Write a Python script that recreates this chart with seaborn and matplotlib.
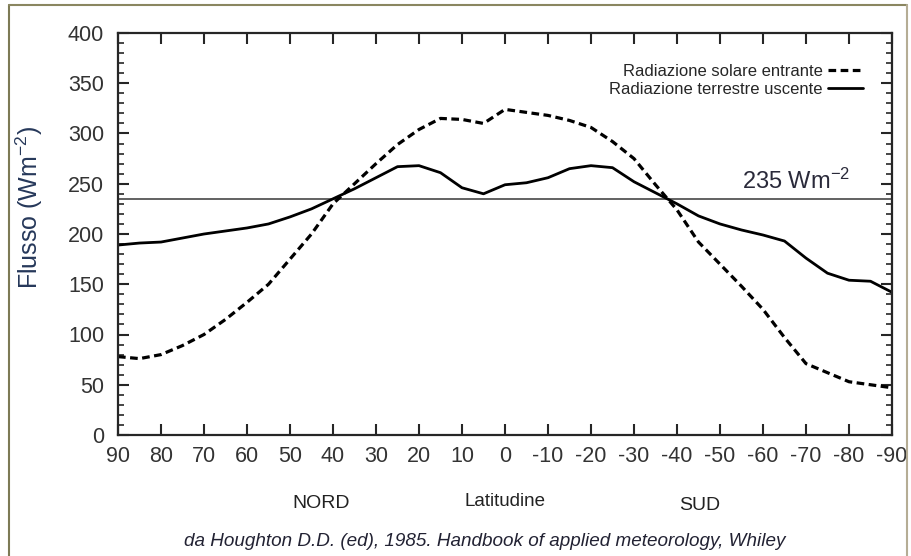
import numpy as np
import pandas as pd
import matplotlib
matplotlib.use("Agg")
import matplotlib.pyplot as plt
import seaborn as sns
from matplotlib.lines import Line2D
from matplotlib.ticker import MultipleLocator

# dati (Houghton 1985)
latitudine = [90, 85, 80, 75, 70, 65, 60, 55, 50, 45, 40, 35, 30, 25, 20, 15, 10, 5, 0,
              -5, -10, -15, -20, -25, -30, -35, -40, -45, -50, -55, -60, -65, -70, -75,
              -80, -85, -90]
solare_entrante = [78, 76, 80, 89, 100, 115, 132, 150, 175, 200, 230, 250, 270, 289, 304,
                   315, 314, 310, 324, 321, 318, 313, 306, 292, 275, 249, 224, 192, 170,
                   148, 125, 97, 71, 62, 53, 50, 47]
terrestre_uscente = [189, 191, 192, 196, 200, 203, 206, 210, 217, 225, 235, 245, 256, 267,
                     268, 261, 246, 240, 249, 251, 256, 265, 268, 266, 252, 241, 230, 218,
                     210, 204, 199, 193, 176, 161, 154, 153, 142]
media = 235
xtick_vals = list(range(90, -91, -10))
xtick_lab = [str(v) for v in xtick_vals]

df = pd.DataFrame({"lat": latitudine, "solare": solare_entrante, "terrestre": terrestre_uscente})

sns.set_style("ticks")
plt.rcParams["font.family"] = ["Liberation Sans", "DejaVu Sans"]
plt.rcParams["mathtext.fontset"] = "custom"
plt.rcParams["mathtext.rm"] = "Liberation Sans"
plt.rcParams["mathtext.it"] = "Liberation Sans:italic"

fig = plt.figure(figsize=(9.12, 5.56), dpi=100)
ax = fig.add_axes([118 / 912, 1 - 435 / 556, (892 - 118) / 912, (435 - 33) / 556])

sns.lineplot(data=df, x="lat", y="solare", ax=ax, color="black", lw=2.3, sort=False)
ax.lines[-1].set_dashes((2.4, 1.4))
sns.lineplot(data=df, x="lat", y="terrestre", ax=ax, color="black", lw=2.0, sort=False)
ax.axhline(media, color="#555555", lw=1.3, zorder=1)

ax.set_xlim(90, -90)
ax.set_ylim(0, 400)
ax.set_xticks(xtick_vals)
ax.set_xticklabels(xtick_lab)
ax.yaxis.set_major_locator(MultipleLocator(50))
ax.yaxis.set_minor_locator(MultipleLocator(10))
ax.tick_params(axis="both", which="major", direction="in", length=8, width=1.5,
               top=True, right=True, labelsize=15.5, labelcolor="#333333")
ax.tick_params(axis="x", which="major", pad=8)
ax.tick_params(axis="y", which="major", pad=10)
ax.tick_params(axis="y", which="minor", direction="in", length=4, width=1.2, right=True)
for s in ax.spines.values():
    s.set_linewidth(1.6)
ax.set_xlabel("")
ax.set_ylabel("Flusso (Wm$^{-2}$)", fontsize=18, color="#26385a")
ax.yaxis.set_label_coords(-0.094, 0.567)

ax.text(-55, 245, "235 Wm$^{-2}$", fontsize=17, color="#2a2a3a", ha="left", va="baseline")

handles = [Line2D([], [], color="black", lw=2.3, dashes=(2.4, 1.4)),
           Line2D([], [], color="black", lw=2.0)]
ax.legend(handles, ["Radiazione solare entrante", "Radiazione terrestre uscente"],
          loc="upper right", bbox_to_anchor=(863 / 912, 1 - 64 / 556),
          bbox_transform=fig.transFigure, frameon=False, markerfirst=False,
          fontsize=12, handlelength=2.1, handletextpad=0.3, labelspacing=0.2,
          borderpad=0, borderaxespad=0)

fig.text(321 / 912, 1 - 503 / 556, "NORD", ha="center", va="center", fontsize=14, color="#222222")
fig.text(505 / 912, 1 - 502 / 556, "Latitudine", ha="center", va="center", fontsize=13.5, color="#222222")
fig.text(700 / 912, 1 - 505 / 556, "SUD", ha="center", va="center", fontsize=14, color="#222222")
fig.text(485 / 912, 1 - 542 / 556,
         "da Houghton D.D. (ed), 1985. Handbook of applied meteorology, Whiley",
         ha="center", va="center", fontsize=13.6, style="italic", color="#222233")

# cornice esterna
fig.add_artist(Line2D([9 / 912, 9 / 912], [0, 1 - 5 / 556], color="#7d7a55", lw=1.5,
                      transform=fig.transFigure))
fig.add_artist(Line2D([9 / 912, 907 / 912], [1 - 5 / 556, 1 - 5 / 556], color="#8a8660",
                      lw=1.5, transform=fig.transFigure))
fig.add_artist(Line2D([907 / 912, 907 / 912], [0, 1 - 5 / 556], color="#b5ad95", lw=1.5,
                      transform=fig.transFigure))

fig.savefig("out.png", dpi=100)
